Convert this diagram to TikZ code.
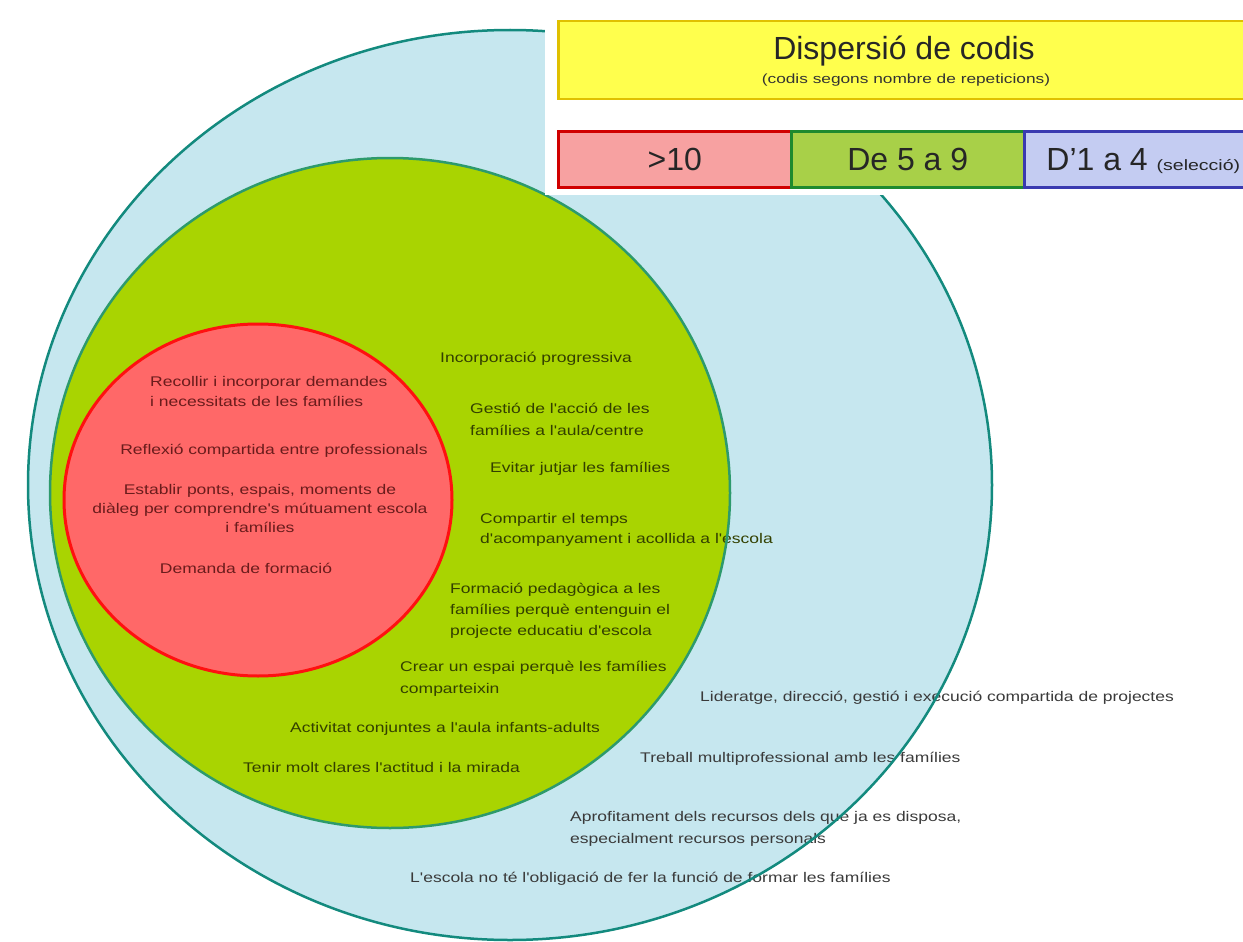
\documentclass[tikz,border=0pt]{standalone}
\usepackage{fontspec}
\setmainfont{Liberation Sans}
\newfontfamily\bodyfont[FakeStretch=1.25]{Liberation Sans}
\newfontfamily\widefont[FakeStretch=1.3]{Liberation Sans}
\definecolor{outerfill}{HTML}{C6E7EF}
\definecolor{outerline}{HTML}{138A7E}
\definecolor{greenfill}{HTML}{A9D401}
\definecolor{greenline}{HTML}{2D9A6C}
\definecolor{redfill}{HTML}{FF6868}
\definecolor{redline}{HTML}{FF1010}
\definecolor{redtext}{HTML}{6A1C1C}
\definecolor{greentext}{HTML}{334000}
\definecolor{outertext}{HTML}{3A3A3A}
\definecolor{yellowfill}{HTML}{FFFF4D}
\definecolor{yellowline}{HTML}{E0C000}
\definecolor{lredfill}{HTML}{F7A1A1}
\definecolor{lredline}{HTML}{D00000}
\definecolor{lgreenfill}{HTML}{A8D048}
\definecolor{lgreenline}{HTML}{1E8A2E}
\definecolor{lbluefill}{HTML}{C4CCF2}
\definecolor{lblueline}{HTML}{3A3AB0}
\begin{document}
\begin{tikzpicture}[x=1pt,y=-1pt,
  bodytxt/.style={font=\bodyfont\fontsize{14}{21}\selectfont, inner sep=0pt},
  redtxt/.style={bodytxt, text=redtext, align=center, anchor=base},
  redtxtl/.style={bodytxt, text=redtext, align=left, anchor=base west},
  greentxt/.style={bodytxt, text=greentext, align=left, anchor=base west},
  outertxt/.style={bodytxt, text=outertext, align=left, anchor=base west},
  legendbox/.style={line width=2.5pt, minimum height=56pt, inner sep=0pt,
    text height=23pt, text depth=0pt, text=black!85,
    font=\fontsize{32}{32}\selectfont}]
\useasboundingbox (0,0) rectangle (1243,942);
% circles (fills)
\fill[outerfill] (510,485) ellipse [x radius=482pt, y radius=455pt];
\fill[greenfill] (390,493) ellipse [x radius=340pt, y radius=335pt];
\fill[redfill] (258,500) ellipse [x radius=194pt, y radius=176pt];
% red circle texts (multi-line nodes: base = last line)
\node[redtxtl, font=\bodyfont\fontsize{14}{20}\selectfont] (r1) at (150,406) {Recollir i incorporar demandes\\i necessitats de les famílies};
\node[redtxt] (r2) at (274,454) {Reflexió compartida entre professionals};
\node[redtxt, font=\bodyfont\fontsize{14}{19}\selectfont] (r3) at (260,532) {Establir ponts, espais, moments de\\diàleg per comprendre's mútuament escola\\i famílies};
\node[redtxt] (r4) at (246,573) {Demanda de formació};
% green circle texts
\node[greentxt] (g1) at (440,362) {Incorporació progressiva};
\node[greentxt, font=\bodyfont\fontsize{14}{22}\selectfont] (g2) at (470,435) {Gestió de l'acció de les\\famílies a l'aula/centre};
\node[greentxt] (g3) at (490,472) {Evitar jutjar les famílies};
\node[greentxt, font=\bodyfont\fontsize{14}{20}\selectfont] (g4) at (480,543) {Compartir el temps\\d'acompanyament i acollida a l'escola};
\node[greentxt] (g5) at (450,635) {Formació pedagògica a les\\famílies perquè entenguin el\\projecte educatiu d'escola};
\node[greentxt, font=\bodyfont\fontsize{14}{22}\selectfont] (g6) at (400,693) {Crear un espai perquè les famílies\\comparteixin};
\node[greentxt] (g7) at (290,732) {Activitat conjuntes a l'aula infants-adults};
\node[greentxt] (g8) at (243,772) {Tenir molt clares l'actitud i la mirada};
% outer ring texts
\node[outertxt] (o1) at (700,701) {Lideratge, direcció, gestió i execució compartida de projectes};
\node[outertxt] (o2) at (640,762) {Treball multiprofessional amb les famílies};
\node[outertxt, font=\bodyfont\fontsize{14}{22}\selectfont] (o3) at (570,843) {Aprofitament dels recursos dels que ja es disposa,\\especialment recursos personals};
\node[outertxt] (o4) at (410,882) {L'escola no té l'obligació de fer la funció de formar les famílies};
% circle outlines (drawn over the texts)
\draw[outerline, line width=2.5pt] (510,485) ellipse [x radius=482pt, y radius=455pt];
\draw[greenline, line width=2.5pt] (390,493) ellipse [x radius=340pt, y radius=335pt];
\draw[redline, line width=3pt] (258,500) ellipse [x radius=194pt, y radius=176pt];
% legend panel
\fill[white] (545,0) rectangle (1243,195);
\node[draw=yellowline, fill=yellowfill, line width=2.5pt, minimum width=694pt, minimum height=78pt, inner sep=0pt, anchor=north west] (title) at (557,20) {};
\node[anchor=base, inner sep=0pt, text=black!85, font=\fontsize{32}{32}\selectfont] (tt) at (904,60) {Dispersió de codis};
\node[anchor=base, inner sep=0pt, text=black!80, font=\widefont\fontsize{13.3}{14}\selectfont] (ts) at (906,84) {(codis segons nombre de repeticions)};
\node[legendbox, draw=lredline, fill=lredfill, minimum width=233pt, anchor=north west] (l1) at (557,130) {>10};
\node[legendbox, draw=lgreenline, fill=lgreenfill, minimum width=233pt, anchor=north west] (l2) at (790,130) {De 5 a 9};
\node[legendbox, draw=lblueline, fill=lbluefill, minimum width=228pt, anchor=north west, align=left] (l3) at (1023,130) {\hspace*{10pt}D'1 a 4 {\widefont\fontsize{15}{15}\selectfont(selecció)}\hfill\null};
\end{tikzpicture}
\end{document}
